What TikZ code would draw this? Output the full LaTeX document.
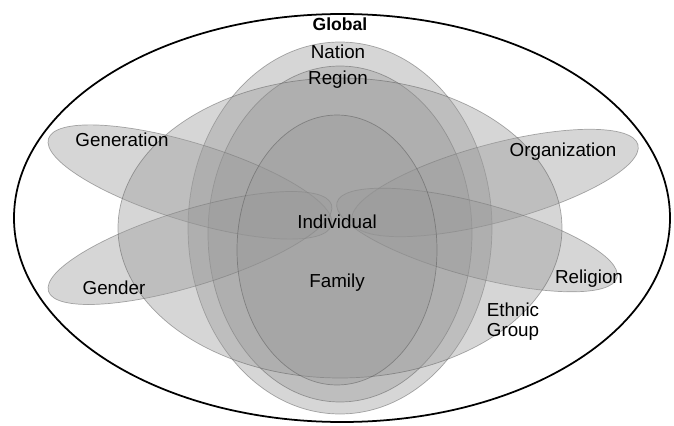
\documentclass[tikz,border=0pt]{standalone}
\usepackage{fontspec}
\setmainfont{Liberation Sans}
\usetikzlibrary{positioning}
\tikzset{
    % Shape styles
    sphere/.style={fill=black!40, fill opacity=0.4, draw=black!70, draw opacity=0.45, line width=0.4pt},
    globe/.style={draw=black, line width=1pt},
    % Text styles
    tag/.style={font=\fontsize{10.7}{11.5}\selectfont, text=black, inner sep=1pt, align=center},
    title tag/.style={tag, font=\fontsize{10}{12}\selectfont\bfseries},
}

\begin{document}
\begin{tikzpicture}[x=0.02cm, y=0.02cm]
    \useasboundingbox (0,0) rectangle (674,-426);

    % Outer sphere
    \draw[globe] (342,-218) ellipse [x radius=328, y radius=204];

    % Vertical spheres
    \draw[sphere] (340,-228) ellipse [x radius=152, y radius=186];
    \draw[sphere] (340,-234) ellipse [x radius=132, y radius=168];

    % Tilted spheres
    \draw[sphere, rotate around={-17:(190,-182)}] (190,-182) ellipse [x radius=148, y radius=39];
    \draw[sphere, rotate around={17:(190,-248)}] (190,-248) ellipse [x radius=148, y radius=38];
    \draw[sphere, rotate around={15:(495,-183)}] (495,-183) ellipse [x radius=148, y radius=39];
    \draw[sphere, rotate around={-15:(477,-240)}] (477,-240) ellipse [x radius=145, y radius=37];

    % Inner spheres
    \draw[sphere] (340,-228) ellipse [x radius=222, y radius=150];
    \draw[sphere] (337,-250) ellipse [x radius=100, y radius=135];

    % Labels
    \node[title tag] (global) at (340,-24) {Global};
    \node[tag] (nation) at (338,-52) {Nation};
    \node[tag] (region) at (338,-80) {Region};
    \node[tag] (generation) at (122,-140) {Generation};
    \node[tag] (organization) at (563,-152) {Organization};
    \node[tag] (individual) at (337,-222) {Individual};
    \node[tag] (family) at (337,-283) {Family};
    \node[tag] (gender) at (114,-288) {Gender};
    \node[tag] (religion) at (589,-279) {Religion};
    \node[tag] (ethnic) at (513,-322) {Ethnic\\Group};
\end{tikzpicture}
\end{document}
